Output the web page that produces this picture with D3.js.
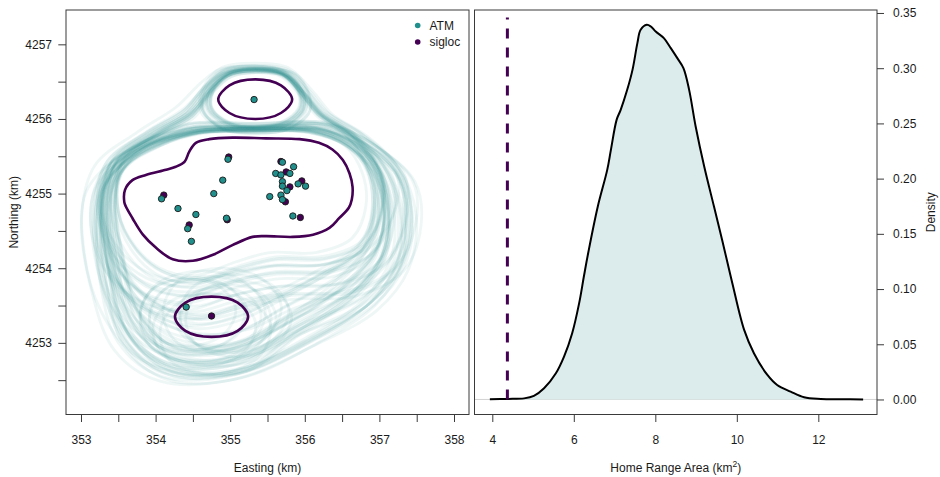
<!DOCTYPE html>
<html>
<head>
<meta charset="utf-8">
<script src="https://cdn.jsdelivr.net/npm/d3@7"></script>
<style>
  body { margin: 0; background: #fff; }
  text { font-family: "Liberation Sans", Arial, Helvetica, sans-serif; fill: #1a1a1a; }
</style>
</head>
<body>
<svg id="fig" width="940" height="477"></svg>
<script>
// ---------- Left panel: locations and home-range contours (km) ----------
const eastTicks  = [353, 353.5, 354, 354.5, 355, 355.5, 356, 356.5, 357, 357.5, 358];
const northTicks = [4252.5, 4253, 4253.5, 4254, 4254.5, 4255, 4255.5, 4256, 4256.5, 4257];

const atmEast  = [355.32, 354.97, 355.70, 355.85, 355.61, 355.68, 355.80, 355.70, 355.70, 355.91, 356.01, 355.76, 355.68,
                  355.53, 355.70, 354.90, 354.78, 354.08, 354.30, 354.54, 354.95, 354.43, 354.48, 355.84, 354.41];
const atmNorth = [4256.26, 4255.46, 4255.42, 4255.36, 4255.27, 4255.25, 4255.27, 4255.16, 4255.10, 4255.13, 4255.10, 4255.04, 4254.98,
                  4254.96, 4254.92, 4255.18, 4255.00, 4254.93, 4254.80, 4254.72, 4254.67, 4254.53, 4254.36, 4254.70, 4253.48];
const siglocEast  = [354.98, 355.68, 355.75, 355.96, 355.80, 355.74, 354.11, 354.45, 355.94, 354.75, 354.96];
const siglocNorth = [4255.49, 4255.43, 4255.29, 4255.17, 4255.09, 4254.89, 4254.98, 4254.58, 4254.68, 4253.36, 4254.65];

// point-estimate home range (three pieces)
const coreMain = [[353.59,4255.05],[353.69,4255.18],[353.87,4255.25],[354.14,4255.32],[354.27,4255.36],[354.39,4255.43],
  [354.45,4255.56],[354.54,4255.68],[354.72,4255.73],[355.03,4255.75],[355.48,4255.74],[355.93,4255.73],[356.19,4255.68],
  [356.37,4255.59],[356.51,4255.45],[356.60,4255.27],[356.64,4255.09],[356.63,4254.92],[356.59,4254.81],[356.46,4254.67],
  [356.33,4254.54],[356.11,4254.45],[355.84,4254.42],[355.48,4254.43],[355.30,4254.42],[355.03,4254.31],[354.77,4254.18],
  [354.50,4254.10],[354.23,4254.12],[354.01,4254.27],[353.83,4254.45],[353.69,4254.67],[353.60,4254.83],[353.58,4254.89]];
const coreTop = [[354.84,4256.26],[354.99,4256.45],[355.34,4256.53],[355.68,4256.45],[355.83,4256.26],[355.68,4256.08],[355.34,4256.00],[354.99,4256.08]];
const coreBottom = [[354.26,4253.35],[354.40,4253.54],[354.75,4253.62],[355.10,4253.54],[355.24,4253.35],[355.10,4253.16],[354.75,4253.08],[354.40,4253.16]];

// posterior home-range outlines: inner / outer limits of each outline family
const bigInner = [[355.33,4256.64],[355.71,4256.59],[355.94,4256.36],[356.18,4256.05],[356.54,4255.79],[356.81,4255.38],
  [356.90,4254.85],[356.77,4254.25],[356.34,4253.78],[355.67,4253.31],[354.93,4252.97],[354.26,4252.97],[353.79,4253.44],
  [353.59,4254.18],[353.48,4254.92],[353.59,4255.45],[354.06,4255.79],[354.49,4256.03],[354.73,4256.36],[354.97,4256.58]];
const bigOuter = [[355.33,4256.75],[355.80,4256.68],[356.07,4256.42],[356.34,4256.12],[356.90,4255.79],[357.41,4255.38],
  [357.65,4254.71],[357.52,4253.98],[357.08,4253.44],[356.20,4252.97],[355.13,4252.53],[354.13,4252.51],[353.52,4252.91],
  [353.19,4253.71],[353.04,4254.65],[353.21,4255.38],[353.79,4255.85],[354.33,4256.21],[354.66,4256.52],[354.93,4256.71]];
const mainInner = [[355.33,4255.87],[356.07,4255.84],[356.54,4255.68],[356.81,4255.32],[356.85,4254.85],[356.67,4254.38],
  [356.20,4254.09],[355.53,4253.71],[355.13,4253.58],[354.60,4253.44],[354.06,4253.64],[353.66,4254.05],[353.51,4254.58],
  [353.51,4255.18],[353.79,4255.59],[354.53,4255.83]];
const mainOuter = [[355.33,4255.92],[356.27,4255.96],[356.87,4255.69],[357.34,4255.32],[357.48,4254.71],[357.34,4254.05],
  [356.87,4253.51],[355.94,4253.11],[355.27,4252.64],[354.46,4252.61],[353.79,4252.84],[353.32,4253.44],[353.09,4254.25],
  [353.12,4255.05],[353.66,4255.59],[354.39,4255.89]];
const upperInner = [[355.33,4255.85],[356.10,4255.83],[356.54,4255.65],[356.77,4255.29],[356.82,4254.85],[356.63,4254.41],
  [356.14,4254.22],[355.53,4254.22],[355.06,4254.09],[354.53,4253.91],[354.06,4254.01],[353.72,4254.31],[353.50,4254.78],
  [353.55,4255.32],[354.06,4255.65],[354.60,4255.81]];
const upperOuter = [[355.33,4255.96],[356.34,4255.96],[356.98,4255.64],[357.48,4255.18],[357.54,4254.58],[357.28,4253.98],
  [356.61,4253.64],[355.80,4253.60],[355.13,4253.51],[354.46,4253.34],[353.72,4253.51],[353.25,4253.98],[353.09,4254.71],
  [353.29,4255.34],[353.79,4255.69],[354.46,4255.96]];
const capInner = [[355.33,4256.64],[355.69,4256.58],[355.90,4256.36],[355.91,4256.15],[355.67,4255.96],[355.33,4255.91],
  [355.00,4255.96],[354.76,4256.15],[354.77,4256.36],[354.97,4256.58]];
const capOuter = [[355.33,4256.75],[355.80,4256.68],[356.04,4256.39],[356.07,4256.09],[355.77,4255.85],[355.33,4255.80],
  [354.89,4255.85],[354.60,4256.09],[354.62,4256.39],[354.86,4256.68]];
const botInner = [[354.76,4253.74],[355.16,4253.63],[355.32,4253.36],[355.16,4253.08],[354.76,4252.97],[354.35,4253.08],[354.19,4253.36],[354.35,4253.63]];
const botOuter = [[354.76,4253.97],[355.35,4253.80],[355.62,4253.40],[355.40,4252.95],[354.80,4252.70],[354.10,4252.85],[353.88,4253.30],[354.10,4253.78]];

// individual draws: [spread at the top, spread at the bottom, east shift, north shift]
const bigDraws = [[0.00,0.10,0.00,0.00],[0.05,0.45,0.03,0.00],[0.10,0.80,-0.04,0.01],[0.02,0.30,0.04,-0.02],
  [0.15,0.60,-0.05,0.02],[0.08,1.00,0.02,0.00],[0.20,0.20,-0.03,0.02],[0.12,0.70,0.04,-0.03],[0.25,0.50,-0.06,0.00],
  [0.05,0.90,0.03,0.02],[0.30,0.35,0.00,-0.02],[0.18,0.15,0.05,0.02],[0.10,0.55,-0.04,-0.03],[0.40,0.75,0.06,0.00],
  [0.03,0.05,-0.02,0.01],[0.22,0.95,-0.06,0.02],[0.50,0.65,0.10,-0.02],[0.35,0.25,-0.05,0.03],[0.60,0.85,0.00,0.00],
  [0.80,1.00,-0.08,-0.02]];
const mainDraws = [[0.00,0.20,0.00,-0.02],[0.10,0.60,0.03,0.00],[0.05,0.90,-0.04,-0.03],[0.20,0.40,0.06,0.00],
  [0.15,1.00,-0.05,-0.04],[0.30,0.15,0.02,0.00],[0.25,0.70,-0.08,-0.02],[0.40,0.50,0.08,-0.05],[0.08,0.30,-0.02,0.00],
  [0.50,0.85,0.10,-0.03],[0.35,0.05,-0.07,-0.02],[0.60,0.95,0.04,-0.05],[0.12,0.45,-0.03,-0.01],[0.70,0.60,0.06,-0.03],
  [0.45,0.25,-0.10,0.00],[0.85,0.80,0.00,-0.02],[0.20,0.75,0.05,-0.04],[0.55,0.10,-0.04,0.00],[0.95,0.35,0.08,-0.03],
  [1.00,1.00,-0.05,-0.02]];
const upperDraws = [[0.00,0.00,0.00,-0.01],[0.05,0.20,0.03,0.00],[0.10,0.45,-0.03,-0.02],[0.15,0.10,0.05,0.00],
  [0.20,0.60,-0.05,-0.03],[0.25,0.30,0.02,0.00],[0.30,0.80,-0.07,-0.02],[0.35,0.05,0.08,-0.03],[0.40,0.50,-0.03,0.00],
  [0.50,0.95,0.06,-0.04],[0.55,0.25,-0.09,-0.01],[0.65,0.70,0.04,-0.02],[0.75,0.40,-0.05,0.00],[0.85,1.00,0.07,-0.03],
  [0.92,0.15,-0.02,-0.01],[1.00,0.85,0.00,-0.02]];
const capDraws = [[0.00,0.05,0.00,0.00],[0.05,0.20,0.01,0.00],[0.10,0.40,-0.02,0.01],[0.15,0.10,0.02,-0.01],
  [0.02,0.60,-0.01,0.00],[0.20,0.30,0.03,0.01],[0.25,0.80,-0.03,0.00],[0.08,0.50,0.02,0.02],[0.30,0.15,-0.02,0.00],
  [0.12,1.00,0.00,0.01],[0.40,0.45,0.03,0.00],[0.55,0.70,-0.03,0.01],[0.70,0.90,0.02,0.00],[0.90,1.00,0.00,0.01]];
const botDraws = [[0.00,0.10,0.08,0.00],[0.20,0.40,-0.18,0.05],[0.35,0.15,0.22,-0.04],[0.10,0.70,-0.10,-0.10],
  [0.50,0.60,0.30,0.06],[0.60,0.30,-0.26,0.00],[0.25,0.90,0.05,-0.14],[0.80,1.00,-0.12,0.04],[0.45,0.50,0.36,-0.02],
  [0.15,0.35,-0.32,0.08],[0.70,0.80,0.14,0.10],[1.00,0.65,-0.02,-0.08]];

// ---------- Right panel: posterior density of home range area ----------
const areaTicks = [4, 6, 8, 10, 12];
const densityTicks = [0, 0.05, 0.10, 0.15, 0.20, 0.25, 0.30, 0.35];
const areaGrid = [3.94,4.37,4.78,5.02,5.27,5.56,5.76,5.96,6.13,6.25,6.36,6.59,6.82,6.91,7.05,7.15,7.31,7.44,7.56,7.64,7.79,
  7.89,8.01,8.21,8.38,8.54,8.69,8.83,8.99,9.20,9.44,9.64,9.89,10.18,10.42,10.75,10.99,11.32,11.65,12.06,12.55,13.10];
const densVals = [0.0002,0.0005,0.0010,0.0032,0.0101,0.0237,0.0388,0.0600,0.0870,0.1120,0.1340,0.1750,0.2079,0.2260,0.2532,
  0.2623,0.2804,0.2985,0.3227,0.3348,0.3393,0.3378,0.3332,0.3272,0.3182,0.3091,0.3001,0.2804,0.2472,0.2109,0.1747,0.1445,
  0.1053,0.0630,0.0419,0.0222,0.0131,0.0071,0.0020,0.0005,0.0002,0.0000];
const observedArea = 4.37;
const observedTop = 0.346;

const TEAL = "#21908C", PURPLE = "#440154", AXIS = "#3a3a3a";

const svg = d3.select("#fig");
const L = {x0: 66, x1: 469, y0: 10, y1: 414.5};
const R = {x0: 474.5, x1: 877, y0: 10, y1: 414.5};

const xL = d3.scaleLinear().domain([352.799, 358.201]).range([L.x0, L.x1]);
const yL = d3.scaleLinear().domain([4252.04, 4257.46]).range([L.y1, L.y0]);
const xR = d3.scaleLinear().domain([3.563, 13.44]).range([R.x0, R.x1]);
const yR = d3.scaleLinear().domain([-0.0136, 0.3527]).range([R.y1, R.y0]);

// ----- left panel -----
svg.append("clipPath").attr("id", "clipL").append("rect")
  .attr("x", L.x0).attr("y", L.y0).attr("width", L.x1 - L.x0).attr("height", L.y1 - L.y0);
const gL = svg.append("g").attr("clip-path", "url(#clipL)");

const closedLine = d3.line().x(d => xL(d[0])).y(d => yL(d[1])).curve(d3.curveCatmullRomClosed.alpha(0.5));

// an outline between the inner and outer limit; the spread changes from top to bottom of the outline
function blend(inner, outer, draw) {
  const [tTop, tBot, dx, dy] = draw;
  const ys = inner.map(p => p[1]);
  const top = d3.max(ys), bot = d3.min(ys);
  return inner.map((p, i) => {
    const w = (top - p[1]) / (top - bot);
    const t = tTop + (tBot - tTop) * w;
    return [p[0] + (outer[i][0] - p[0]) * t + dx, p[1] + (outer[i][1] - p[1]) * t + dy];
  });
}
const families = [
  {inner: bigInner, outer: bigOuter, draws: bigDraws},
  {inner: mainInner, outer: mainOuter, draws: mainDraws},
  {inner: upperInner, outer: upperOuter, draws: upperDraws},
  {inner: capInner, outer: capOuter, draws: capDraws},
  {inner: botInner, outer: botOuter, draws: botDraws}
];
const haze = gL.append("g");
families.forEach(f => {
  haze.selectAll(null).data(f.draws).enter().append("path")
    .attr("d", d => closedLine(blend(f.inner, f.outer, d)))
    .attr("fill", "none").attr("stroke", TEAL).attr("stroke-opacity", 0.08).attr("stroke-width", 2.8);
});

gL.selectAll(".core").data([coreMain, coreTop, coreBottom]).enter().append("path")
  .attr("class", "core").attr("d", closedLine)
  .attr("fill", "none").attr("stroke", PURPLE).attr("stroke-width", 2.6);

const sig = siglocEast.map((e, i) => [e, siglocNorth[i]]);
const atm = atmEast.map((e, i) => [e, atmNorth[i]]);
gL.selectAll(".sig").data(sig).enter().append("circle")
  .attr("cx", d => xL(d[0])).attr("cy", d => yL(d[1])).attr("r", 3.2)
  .attr("fill", PURPLE).attr("stroke", "#1a1a1a").attr("stroke-width", 0.9);
gL.selectAll(".atm").data(atm).enter().append("circle")
  .attr("cx", d => xL(d[0])).attr("cy", d => yL(d[1])).attr("r", 3.2)
  .attr("fill", TEAL).attr("stroke", "#1a1a1a").attr("stroke-width", 0.9);

// legend
const legend = svg.append("g");
[["ATM", TEAL, 25.5], ["sigloc", PURPLE, 42]].forEach(([lab, col, y]) => {
  legend.append("circle").attr("cx", 417.7).attr("cy", y).attr("r", 2.8).attr("fill", col);
  legend.append("text").attr("x", 429.5).attr("y", y).attr("dy", "0.36em").attr("font-size", 12).text(lab);
});

// box + axes
function box(b) {
  svg.append("rect").attr("x", b.x0).attr("y", b.y0).attr("width", b.x1 - b.x0).attr("height", b.y1 - b.y0)
    .attr("fill", "none").attr("stroke", AXIS).attr("stroke-width", 1);
}
function styleAxis(g) {
  g.select(".domain").remove();
  g.selectAll("line").attr("stroke", AXIS);
  g.selectAll("text").attr("font-size", 12).attr("font-family", '"Liberation Sans", Arial, sans-serif').attr("fill", "#1a1a1a");
}
box(L);
svg.append("g").attr("transform", `translate(0,${L.y1})`)
  .call(d3.axisBottom(xL).tickValues(eastTicks).tickSize(7.5).tickPadding(13)
    .tickFormat(d => Number.isInteger(d) ? d : ""))
  .call(styleAxis);
svg.append("g").attr("transform", `translate(${L.x0},0)`)
  .call(d3.axisLeft(yL).tickValues(northTicks).tickSize(7.7).tickPadding(6.3)
    .tickFormat(d => Number.isInteger(d) ? d : ""))
  .call(styleAxis);
svg.append("text").attr("x", (L.x0 + L.x1) / 2).attr("y", 472).attr("text-anchor", "middle").attr("font-size", 12).text("Easting (km)");
svg.append("text").attr("transform", `translate(17.5,${(L.y0 + L.y1) / 2}) rotate(-90)`).attr("text-anchor", "middle")
  .attr("font-size", 12).text("Northing (km)");

// ----- right panel -----
svg.append("clipPath").attr("id", "clipR").append("rect")
  .attr("x", R.x0).attr("y", R.y0).attr("width", R.x1 - R.x0).attr("height", R.y1 - R.y0);
const gR = svg.append("g").attr("clip-path", "url(#clipR)");
const dens = areaGrid.map((a, i) => [a, densVals[i]]);

gR.append("line").attr("x1", R.x0).attr("x2", R.x1).attr("y1", yR(0)).attr("y2", yR(0))
  .attr("stroke", "#c8c8c8").attr("stroke-width", 0.8);
gR.append("path").datum(dens)
  .attr("d", d3.area().x(d => xR(d[0])).y0(yR(0)).y1(d => yR(d[1])).curve(d3.curveCatmullRom.alpha(0.5)))
  .attr("fill", "#DCECEC");
gR.append("path").datum(dens)
  .attr("d", d3.line().x(d => xR(d[0])).y(d => yR(d[1])).curve(d3.curveCatmullRom.alpha(0.5)))
  .attr("fill", "none").attr("stroke", "#000").attr("stroke-width", 2);
gR.append("line").attr("x1", xR(observedArea)).attr("x2", xR(observedArea))
  .attr("y1", yR(0)).attr("y2", yR(observedTop))
  .attr("stroke", PURPLE).attr("stroke-width", 3).attr("stroke-dasharray", "10 9");

box(R);
svg.append("g").attr("transform", `translate(0,${R.y1})`)
  .call(d3.axisBottom(xR).tickValues(areaTicks).tickSize(7.5).tickPadding(13))
  .call(styleAxis);
svg.append("g").attr("transform", `translate(${R.x1},0)`)
  .call(d3.axisRight(yR).tickValues(densityTicks).tickSize(7).tickPadding(9).tickFormat(d3.format(".2f")))
  .call(styleAxis);
const xt = svg.append("text").attr("x", (R.x0 + R.x1) / 2).attr("y", 472).attr("text-anchor", "middle").attr("font-size", 12);
xt.append("tspan").text("Home Range Area (km");
xt.append("tspan").attr("font-size", 8.5).attr("dy", -5).text("2");
xt.append("tspan").attr("dy", 5).text(")");
svg.append("text").attr("transform", `translate(935,${(R.y0 + R.y1) / 2}) rotate(-90)`).attr("text-anchor", "middle")
  .attr("font-size", 12).text("Density");
</script>
</body>
</html>
